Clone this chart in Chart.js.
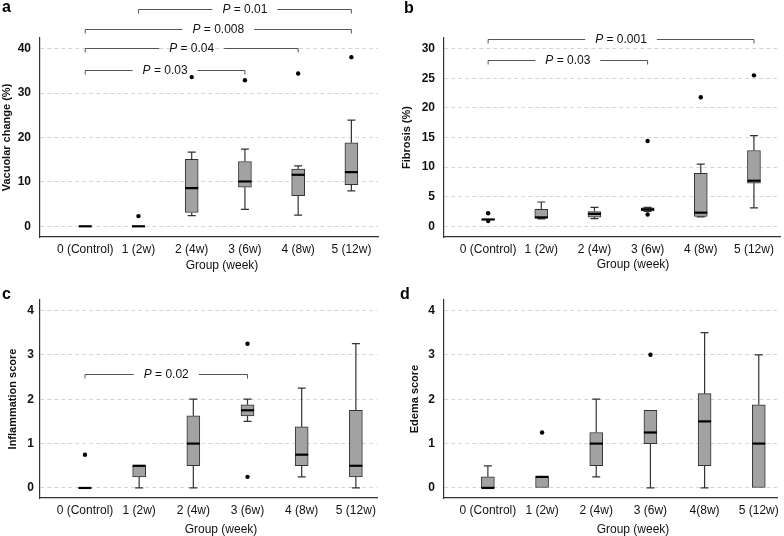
<!DOCTYPE html>
<html>
<head>
<meta charset="utf-8">
<script src="https://cdn.jsdelivr.net/npm/chart.js@4.4.0/dist/chart.umd.min.js"></script>
<style>
  body { margin: 0; background: #fff; width: 784px; height: 536px; overflow: hidden; position: relative; }
  canvas { position: absolute; }
</style>
</head>
<body>
<canvas id="chartA" width="392" height="274" style="left:0;top:0"></canvas>
<canvas id="chartB" width="392" height="274" style="left:392px;top:0"></canvas>
<canvas id="chartC" width="392" height="268" style="left:0;top:268px"></canvas>
<canvas id="chartD" width="392" height="268" style="left:392px;top:268px"></canvas>
<script>
// group labels (panel d has "4(8w)" without a space, as in the figure)
const groupLabels = ['0 (Control)', '1 (2w)', '2 (4w)', '3 (6w)', '4 (8w)', '5 (12w)'];
const groupLabelsD = ['0 (Control)', '1 (2w)', '2 (4w)', '3 (6w)', '4(8w)', '5 (12w)'];

// y tick values
const ticksVac = [0, 10, 20, 30, 40];
const ticksFib = [0, 5, 10, 15, 20, 25, 30];
const ticksScore = [0, 1, 2, 3, 4];

// a - vacuolar change (%)
const vacMin = [0, 0, 2.4, 3.8, 2.5, 8.0];
const vacQ1  = [0, 0, 3.1, 8.8, 6.9, 9.4];
const vacMed = [0, 0, 8.6, 10.1, 11.6, 12.2];
const vacQ3  = [0, 0, 15.1, 14.6, 12.9, 18.8];
const vacMax = [0, 0, 16.7, 17.4, 13.6, 23.9];
const vacOut = [[1, 2.3], [2, 33.6], [3, 32.9], [4, 34.4], [5, 38.1]];
const vacBrackets = [[0, 3, 35.3, '0.03'], [0, 4, 40.1, '0.04'], [0, 5, 44.4, '0.008'], [1, 5, 48.9, '0.01']];

// b - fibrosis (%)
const fibMin = [1.1, 1.25, 1.3, 2.5, 1.6, 3.1];
const fibQ1  = [1.1, 1.4, 1.55, 2.6, 1.65, 7.3];
const fibMed = [1.15, 1.5, 2.1, 2.85, 2.3, 7.7];
const fibQ3  = [1.2, 2.85, 2.5, 3.1, 8.95, 12.8];
const fibMax = [1.2, 4.1, 3.2, 3.2, 10.5, 15.3];
const fibOut = [[0, 2.2], [0, 0.9], [3, 14.4], [3, 2.0], [4, 21.8], [5, 25.5]];
const fibBrackets = [[0, 3, 28.1, '0.03'], [0, 5, 31.7, '0.001']];

// c - inflammation score
const infMin = [0, 0, 0, 1.5, 0.25, 0];
const infQ1  = [0, 0.25, 0.5, 1.625, 0.5, 0.25];
const infMed = [0, 0.5, 1.0, 1.75, 0.75, 0.5];
const infQ3  = [0, 0.5, 1.625, 1.875, 1.375, 1.75];
const infMax = [0, 0.5, 2.0, 2.0, 2.25, 3.25];
const infOut = [[0, 0.75], [3, 3.25], [3, 0.25]];
const infBrackets = [[0, 3, 2.57, '0.02']];

// d - edema score
const edeMin = [0, 0, 0.25, 0, 0, 0];
const edeQ1  = [0, 0, 0.5, 1.0, 0.5, 0];
const edeMed = [0, 0.25, 1.0, 1.25, 1.5, 1.0];
const edeQ3  = [0.25, 0.25, 1.25, 1.75, 2.125, 1.875];
const edeMax = [0.5, 0.25, 2.0, 1.75, 3.5, 3.0];
const edeOut = [[1, 1.25], [3, 3.0]];

const FONT = '"Liberation Sans", Arial, Helvetica, sans-serif';
Chart.defaults.font.family = FONT;
Chart.defaults.color = '#111';

// whiskers, medians, significance brackets, panel letter, x title
function boxExtras(p) {
  return {
    id: 'boxExtras',
    afterDatasetsDraw(chart) {
      const ctx = chart.ctx, xs = chart.scales.x, ys = chart.scales.y;
      ctx.save();
      p.med.forEach((m, i) => {
        const cx = xs.getPixelForValue(i);
        ctx.strokeStyle = '#333';
        ctx.lineWidth = 1.2;
        ctx.beginPath();
        if (p.max[i] > p.q3[i]) {
          const yt = ys.getPixelForValue(p.max[i]);
          ctx.moveTo(cx, ys.getPixelForValue(p.q3[i])); ctx.lineTo(cx, yt);
          ctx.moveTo(cx - 4, yt); ctx.lineTo(cx + 4, yt);
        }
        if (p.min[i] < p.q1[i]) {
          const yb = ys.getPixelForValue(p.min[i]);
          ctx.moveTo(cx, ys.getPixelForValue(p.q1[i])); ctx.lineTo(cx, yb);
          ctx.moveTo(cx - 4, yb); ctx.lineTo(cx + 4, yb);
        }
        ctx.stroke();
        // median
        const ym = ys.getPixelForValue(m);
        ctx.strokeStyle = '#000';
        ctx.lineWidth = 2.2;
        ctx.beginPath();
        ctx.moveTo(cx - 6.5, ym); ctx.lineTo(cx + 6.5, ym);
        ctx.stroke();
      });

      // brackets with P values
      (p.brackets || []).forEach(([from, to, val, pv]) => {
        const x1 = xs.getPixelForValue(from), x2 = xs.getPixelForValue(to);
        const py = Math.round(ys.getPixelForValue(val)) + 0.5;
        const mid = (x1 + x2) / 2;
        ctx.font = 'italic 12px ' + FONT;
        const wP = ctx.measureText('P').width;
        ctx.font = '12px ' + FONT;
        const rest = ' = ' + pv;
        const wR = ctx.measureText(rest).width;
        const start = mid - (wP + wR) / 2;
        ctx.strokeStyle = '#555';
        ctx.lineWidth = 1;
        ctx.beginPath();
        ctx.moveTo(x1, py + 4); ctx.lineTo(x1, py); ctx.lineTo(start - 10, py);
        ctx.moveTo(start + wP + wR + 10, py); ctx.lineTo(x2, py); ctx.lineTo(x2, py + 4);
        ctx.stroke();
        ctx.fillStyle = '#111';
        ctx.textBaseline = 'middle';
        ctx.textAlign = 'left';
        ctx.font = 'italic 12px ' + FONT;
        ctx.fillText('P', start, py);
        ctx.font = '12px ' + FONT;
        ctx.fillText(rest, start + wP, py);
      });
      ctx.restore();
    },
    afterDraw(chart) {
      const ctx = chart.ctx;
      ctx.save();
      ctx.fillStyle = '#000';
      ctx.font = 'bold 16px ' + FONT;
      ctx.textBaseline = 'alphabetic';
      ctx.textAlign = 'left';
      ctx.fillText(p.letter, p.letterPos[0], p.letterPos[1]);
      ctx.fillStyle = '#111';
      ctx.font = '12px ' + FONT;
      ctx.textAlign = 'center';
      ctx.textBaseline = 'middle';
      ctx.fillText('Group (week)', p.xTitlePos[0], p.xTitlePos[1]);
      ctx.restore();
    }
  };
}

function makePanel(id, p) {
  new Chart(document.getElementById(id), {
    type: 'bar',
    data: {
      datasets: [
        {
          type: 'bar',
          data: p.q1.map((v, i) => ({ x: i, y: [v, p.q3[i]] })),
          backgroundColor: '#a2a2a2',
          borderColor: '#333',
          borderWidth: 1,
          borderSkipped: false,
          barThickness: 13
        },
        {
          type: 'scatter',
          data: p.out.map(o => ({ x: o[0], y: o[1] })),
          backgroundColor: '#000',
          borderWidth: 0,
          pointRadius: 2.2
        }
      ]
    },
    options: {
      responsive: false,
      animation: false,
      layout: { padding: p.pad },
      plugins: { legend: { display: false }, tooltip: { enabled: false } },
      scales: {
        x: {
          type: 'linear',
          offset: false,
          min: p.xRange[0],
          max: p.xRange[1],
          afterFit: s => { s.height = p.xHeight; },
          afterBuildTicks: s => { s.ticks = p.labels.map((l, i) => ({ value: i })); },
          grid: { drawOnChartArea: false, drawTicks: false },
          border: { color: '#333', width: 1.2 },
          ticks: {
            autoSkip: false,
            maxRotation: 0,
            padding: 5,
            font: { size: 12 },
            callback: v => p.labels[v]
          }
        },
        y: {
          type: 'linear',
          min: p.yRange[0],
          max: p.yRange[1],
          afterFit: s => { s.width = p.yWidth; },
          afterBuildTicks: s => { s.ticks = p.yTicks.map(v => ({ value: v })); },
          grid: { color: '#d6d6d6', lineWidth: 1, drawTicks: false },
          border: { color: '#333', width: 1.2, dash: [4, 3] },
          ticks: { padding: p.tickPad, font: { size: 12, weight: 'bold' } },
          title: {
            display: true,
            text: p.yTitle,
            font: { size: 11, weight: 'bold' },
            color: '#111',
            padding: { top: p.yTitlePad, bottom: 0 }
          }
        }
      }
    },
    plugins: [boxExtras(p)]
  });
}

makePanel('chartA', {
  min: vacMin, q1: vacQ1, med: vacMed, q3: vacQ3, max: vacMax, out: vacOut,
  brackets: vacBrackets, labels: groupLabels, yTicks: ticksVac,
  yRange: [-2.41, 42.41], xRange: [-0.85, 5.5],
  yTitle: 'Vacuolar change (%)', letter: 'a',
  pad: { top: 38, right: 14, left: 0, bottom: 0 }, yWidth: 40, xHeight: 37,
  yTitlePad: 0, tickPad: 9, letterPos: [2, 12], xTitlePos: [222, 266]
});

makePanel('chartB', {
  min: fibMin, q1: fibQ1, med: fibMed, q3: fibQ3, max: fibMax, out: fibOut,
  brackets: fibBrackets, labels: groupLabels, yTicks: ticksFib,
  yRange: [-1.81, 31.81], xRange: [-0.83, 5.49],
  yTitle: 'Fibrosis (%)', letter: 'b',
  pad: { top: 38, right: 3, left: 0, bottom: 0 }, yWidth: 52, xHeight: 37,
  yTitlePad: 8, tickPad: 9, letterPos: [12, 13], xTitlePos: [241, 265]
});

makePanel('chartC', {
  min: infMin, q1: infQ1, med: infMed, q3: infQ3, max: infMax, out: infOut,
  brackets: infBrackets, labels: groupLabels, yTicks: ticksScore,
  yRange: [-0.226, 4.235], xRange: [-0.83, 5.39],
  yTitle: 'Inflammation score', letter: 'c',
  pad: { top: 32, right: 15, left: 0, bottom: 0 }, yWidth: 40, xHeight: 38,
  yTitlePad: 6, tickPad: 6, letterPos: [2, 31], xTitlePos: [221, 262]
});

makePanel('chartD', {
  min: edeMin, q1: edeQ1, med: edeMed, q3: edeQ3, max: edeMax, out: edeOut,
  brackets: [], labels: groupLabelsD, yTicks: ticksScore,
  yRange: [-0.226, 4.235], xRange: [-0.81, 5.34],
  yTitle: 'Edema score', letter: 'd',
  pad: { top: 32, right: 4, left: 0, bottom: 0 }, yWidth: 52, xHeight: 38,
  yTitlePad: 16, tickPad: 9, letterPos: [8, 31], xTitlePos: [241, 262]
});
</script>
</body>
</html>
